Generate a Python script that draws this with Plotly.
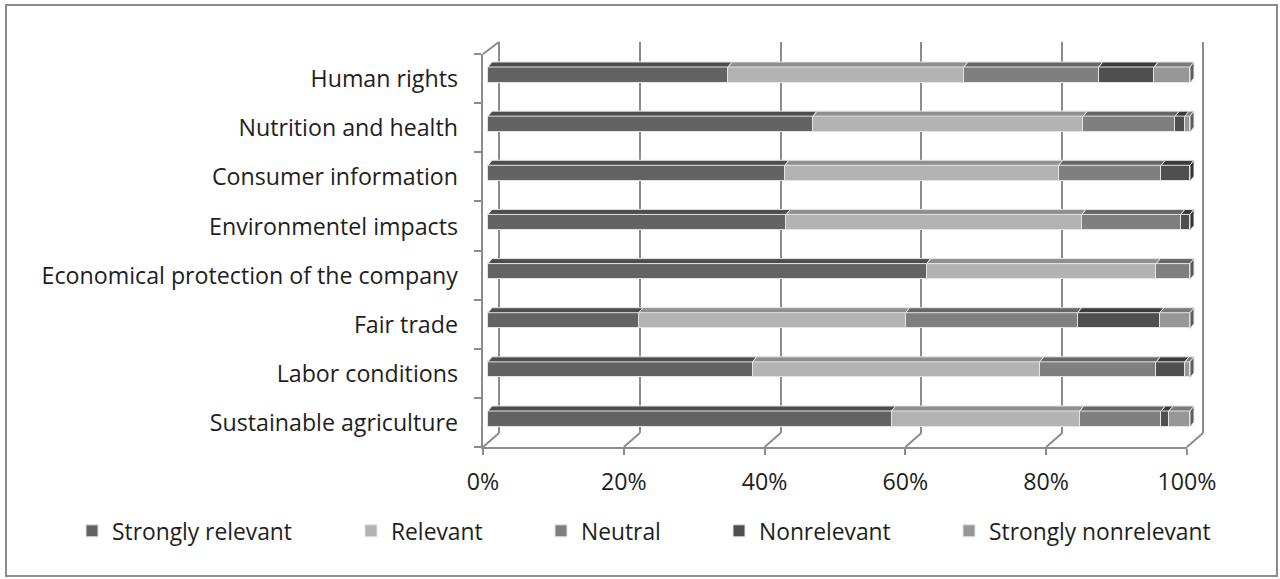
import plotly.graph_objects as go

# ---------------- data ----------------
categories = ["Human rights", "Nutrition and health", "Consumer information",
              "Environmentel impacts", "Economical protection of the company",
              "Fair trade", "Labor conditions", "Sustainable agriculture"]
series_names = ["Strongly relevant", "Relevant", "Neutral", "Nonrelevant", "Strongly nonrelevant"]
strongly_relevant = [34.2, 46.3, 42.3, 42.5, 62.5, 21.5, 37.7, 57.5]
relevant = [33.6, 38.5, 39.0, 42.1, 32.7, 38.0, 40.9, 26.8]
neutral = [19.2, 13.1, 14.6, 14.1, 4.8, 24.5, 16.6, 11.6]
nonrelevant = [7.9, 1.4, 4.1, 1.3, 0.0, 11.7, 4.1, 1.1]
strongly_nonrelevant = [5.1, 0.7, 0.0, 0.0, 0.0, 4.3, 0.7, 3.0]
tick_values = [0, 20, 40, 60, 80, 100]
tick_labels = ["0%", "20%", "40%", "60%", "80%", "100%"]

series_values = [strongly_relevant, relevant, neutral, nonrelevant, strongly_nonrelevant]

# ---------------- styles ----------------
W, H = 1280, 579
front_colors = ["#636363", "#b3b3b3", "#7f7f7f", "#4f4f4f", "#979797"]
top_colors = ["#4d4d4d", "#8f8f8f", "#666666", "#3b3b3b", "#7a7a7a"]
side_colors = ["#444444", "#7a7a7a", "#575757", "#333333", "#5e5e5e"]
edge = "#e4e4e4"
axis_gray = "#8c8c8c"
FONT = "Open Sans"
FSIZE = 23.2
LSIZE = 22.8
TXT = "#1e1e1e"

def px(x):
    return x / W

def py(y):
    return 1 - y / H

bar_x0, bar_x100 = 488, 1190
ux = (bar_x100 - bar_x0) / 100.0
top_c, bot_c = 75, 419
uy = (bot_c - top_c) / (len(categories) - 1)
bar_h = 16 / uy
depth_x = 4 / ux
depth_y = 5 / uy

g_x0, g_x100, g_top, g_bot = 499, 1203, 42, 433
ugx = (g_x100 - g_x0) / 100.0
f_x0, f_x100, f_y = 483, 1187, 447
wall_top = 54

fig = go.Figure()

fig.add_trace(go.Scatter(x=[0], y=[0], mode="markers", marker=dict(opacity=0),
                         showlegend=False, hoverinfo="skip", xaxis="x", yaxis="y"))
fig.add_trace(go.Scatter(x=[0], y=[0], mode="markers", marker=dict(opacity=0),
                         showlegend=False, hoverinfo="skip", xaxis="x3", yaxis="y3"))

ypos = list(range(len(categories)))
cum = [0.0] * len(categories)
last_idx = []
for j in range(len(categories)):
    li = 0
    for i, s in enumerate(series_values):
        if s[j] > 0:
            li = i
    last_idx.append(li)

legend_ids = ["legend", "legend2", "legend3", "legend4", "legend5"]
for i, (name, vals) in enumerate(zip(series_names, series_values)):
    base = cum[:]
    fig.add_trace(go.Bar(
        x=[v if v > 0 else None for v in vals], y=ypos, base=base, orientation="h",
        width=bar_h, name=name, legend=legend_ids[i],
        marker=dict(color=front_colors[i], line=dict(color=edge, width=1)),
        xaxis="x2", yaxis="y2"))
    tx, ty = [], []
    sx, sy = [], []
    for j, v in enumerate(vals):
        if v <= 0:
            continue
        x0, x1 = base[j], base[j] + v
        yf = j - bar_h / 2
        yb = yf - depth_y
        tx += [x0, x1, x1 + depth_x, x0 + depth_x, x0, None]
        ty += [yf, yf, yb, yb, yf, None]
        if last_idx[j] == i:
            sx += [x1, x1 + depth_x, x1 + depth_x, x1, x1, None]
            sy += [yf, yb, yb + bar_h, yf + bar_h, yf, None]
    fig.add_trace(go.Scatter(x=tx, y=ty, mode="lines", fill="toself", fillcolor=top_colors[i],
                             line=dict(color=edge, width=1), showlegend=False, hoverinfo="skip",
                             xaxis="x2", yaxis="y2"))
    if sx:
        fig.add_trace(go.Scatter(x=sx, y=sy, mode="lines", fill="toself", fillcolor=side_colors[i],
                                 line=dict(color=edge, width=1), showlegend=False, hoverinfo="skip",
                                 xaxis="x2", yaxis="y2"))
    cum = [c + v for c, v in zip(cum, vals)]

shapes = [dict(type="rect", xref="paper", yref="paper", x0=px(6), x1=px(1277), y0=py(5), y1=py(576),
               line=dict(color=axis_gray, width=2), layer="below")]
line_style = dict(color=axis_gray, width=2)
shapes.append(dict(type="line", xref="paper", yref="paper", x0=px(f_x0), y0=py(wall_top),
                   x1=px(g_x0), y1=py(g_top), line=line_style))
for t in tick_values:
    shapes.append(dict(type="line", xref="paper", yref="paper",
                       x0=px(g_x0 + ugx * t), y0=py(g_bot),
                       x1=px(f_x0 + (f_x100 - f_x0) / 100 * t), y1=py(f_y), line=line_style))

pad = 1.0
layout = dict(
    width=W, height=H, margin=dict(l=0, r=0, t=0, b=0, pad=0, autoexpand=False),
    paper_bgcolor="white", plot_bgcolor="rgba(0,0,0,0)",
    barmode="stack", bargap=0,
    font=dict(family=FONT, size=FSIZE, color=TXT),
    shapes=shapes,
    xaxis=dict(domain=[px(g_x0 - pad * ugx), px(g_x100 + pad * ugx)], range=[-pad, 100 + pad],
               tickvals=tick_values, showticklabels=False, showgrid=True, gridcolor=axis_gray,
               gridwidth=2, zeroline=False, showline=False, ticks="", anchor="y", fixedrange=True,
               automargin=False),
    yaxis=dict(domain=[py(g_bot), py(g_top)], range=[0, 1], visible=False, anchor="x", fixedrange=True,
               automargin=False),
    xaxis2=dict(domain=[px(bar_x0 - 2 * ux), px(bar_x100 + 2 * ux)], range=[-2, 102],
                visible=False, anchor="y2", fixedrange=True, automargin=False),
    yaxis2=dict(domain=[py(bot_c + uy / 2), py(top_c - uy / 2)], range=[len(categories) - 0.5, -0.5],
                tickvals=ypos, ticktext=categories, showgrid=False, zeroline=False, showline=False,
                ticks="", anchor="x2", ticklabelstandoff=15, ticklabelshift=-4, automargin=False,
                tickfont=dict(family=FONT, size=FSIZE, color=TXT), fixedrange=True),
    xaxis3=dict(domain=[px(f_x0), px(f_x100)], range=[0, 100], tickvals=tick_values, ticktext=tick_labels,
                showline=True, linecolor=axis_gray, linewidth=2, ticks="outside", ticklen=6,
                tickcolor=axis_gray, tickwidth=2, showgrid=False, zeroline=False, anchor="y3",
                ticklabelstandoff=7, automargin=False,
                tickfont=dict(family=FONT, size=FSIZE, color=TXT), fixedrange=True),
    yaxis3=dict(domain=[py(f_y), py(wall_top)], range=[len(categories), 0],
                tickvals=list(range(len(categories) + 1)), showticklabels=False,
                showline=True, linecolor=axis_gray, linewidth=2, ticks="outside", ticklen=7,
                tickcolor=axis_gray, tickwidth=2, showgrid=False, zeroline=False, anchor="x3",
                fixedrange=True, automargin=False),
)
legend_text_x = [112, 391, 581, 759, 989]
for i, lid in enumerate(legend_ids):
    layout[lid] = dict(x=px(legend_text_x[i] - 40), y=py(531), xanchor="left", yanchor="middle",
                       orientation="h", bgcolor="rgba(0,0,0,0)", borderwidth=0,
                       font=dict(family=FONT, size=LSIZE, color=TXT), itemwidth=30)

fig.update_layout(**layout)
fig.write_html("out.html", config={"displayModeBar": False},
               post_script="document.body.style.margin='0';document.body.style.overflow='hidden';")
